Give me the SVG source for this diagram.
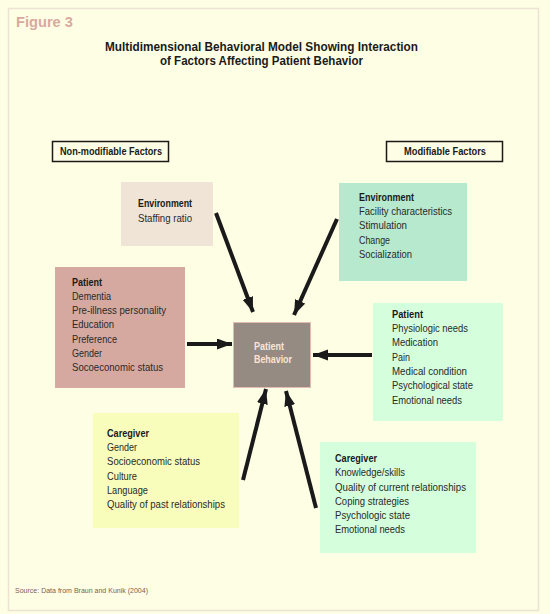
<svg xmlns="http://www.w3.org/2000/svg" width="550" height="614" viewBox="0 0 550 614">
<defs>
<marker id="ah" markerUnits="userSpaceOnUse" markerWidth="16" markerHeight="12" refX="15" refY="5.5" orient="auto">
<path d="M0,0 L15,5.5 L0,11 Z" fill="#1a1a1a"/>
</marker>
<style>
.t{font-family:"Liberation Sans",Arial,sans-serif;font-size:11.5px;fill:#2a2a2a}
.b{font-weight:bold;fill:#1a1a1a}
.title{font-family:"Liberation Sans",Arial,sans-serif;font-size:13.5px;font-weight:bold;fill:#1a1a1a}
.arr{stroke:#1a1a1a;stroke-width:4;fill:none;marker-end:url(#ah)}
</style>
</defs>
<rect x="0" y="0" width="550" height="614" fill="#FEFEE4"/>
<rect x="8.5" y="8.5" width="530" height="602" fill="#FEFEE4" stroke="#EDE3D3" stroke-width="1.5"/>
<text x="16" y="27" font-family="'Liberation Sans',sans-serif" font-size="14" font-weight="bold" fill="#D9A9A0" textLength="57" lengthAdjust="spacingAndGlyphs">Figure 3</text>
<text class="title" x="105" y="51" textLength="313" lengthAdjust="spacingAndGlyphs">Multidimensional Behavioral Model Showing Interaction</text>
<text class="title" x="160" y="65" textLength="203" lengthAdjust="spacingAndGlyphs">of Factors Affecting Patient Behavior</text>

<g id="nonmod-label">
<rect x="52.5" y="141.5" width="116" height="20" fill="none" stroke="#1a1a1a" stroke-width="1.5"/>
<text class="t b" x="60" y="155" textLength="102" lengthAdjust="spacingAndGlyphs">Non-modifiable Factors</text>
</g>
<g id="mod-label">
<rect x="386.5" y="141.5" width="116" height="20" fill="none" stroke="#1a1a1a" stroke-width="1.5"/>
<text class="t b" x="404" y="155" textLength="82" lengthAdjust="spacingAndGlyphs">Modifiable Factors</text>
</g>

<g id="env-nonmod">
<rect x="121" y="182" width="92" height="64" fill="#EFE4D6"/>
<text class="t b" x="138" y="207" textLength="54" lengthAdjust="spacingAndGlyphs">Environment</text>
<text class="t" x="138" y="222" textLength="54" lengthAdjust="spacingAndGlyphs">Staffing ratio</text>
</g>

<g id="patient-nonmod">
<rect x="55" y="267" width="130" height="121" fill="#D5A99F"/>
<text class="t b" x="72" y="286" textLength="30" lengthAdjust="spacingAndGlyphs">Patient</text>
<text class="t" x="72" y="300" textLength="39" lengthAdjust="spacingAndGlyphs">Dementia</text>
<text class="t" x="72" y="314" textLength="94" lengthAdjust="spacingAndGlyphs">Pre-illness personality</text>
<text class="t" x="72" y="328" textLength="42" lengthAdjust="spacingAndGlyphs">Education</text>
<text class="t" x="72" y="343" textLength="45" lengthAdjust="spacingAndGlyphs">Preference</text>
<text class="t" x="72" y="357" textLength="30" lengthAdjust="spacingAndGlyphs">Gender</text>
<text class="t" x="72" y="371" textLength="91" lengthAdjust="spacingAndGlyphs">Socoeconomic status</text>
</g>

<g id="patient-behavior">
<rect x="233.5" y="322.5" width="77" height="65" fill="#958B82" stroke="#E2BDB4" stroke-width="1"/>
<text class="t b" x="254" y="350" style="fill:#FBE3DA" textLength="30" lengthAdjust="spacingAndGlyphs">Patient</text>
<text class="t b" x="254" y="363" style="fill:#FBE3DA" textLength="38" lengthAdjust="spacingAndGlyphs">Behavior</text>
</g>

<g id="env-mod">
<rect x="339" y="183" width="128" height="98" fill="#B7E9CF"/>
<text class="t b" x="359" y="201" textLength="55" lengthAdjust="spacingAndGlyphs">Environment</text>
<text class="t" x="359" y="215" textLength="93" lengthAdjust="spacingAndGlyphs">Facility characteristics</text>
<text class="t" x="359" y="229" textLength="48" lengthAdjust="spacingAndGlyphs">Stimulation</text>
<text class="t" x="359" y="244" textLength="31" lengthAdjust="spacingAndGlyphs">Change</text>
<text class="t" x="359" y="258" textLength="53" lengthAdjust="spacingAndGlyphs">Socialization</text>
</g>

<g id="patient-mod">
<rect x="373" y="303" width="130" height="118" fill="#D5FEDD"/>
<text class="t b" x="392" y="318" textLength="31" lengthAdjust="spacingAndGlyphs">Patient</text>
<text class="t" x="392" y="332" textLength="76" lengthAdjust="spacingAndGlyphs">Physiologic needs</text>
<text class="t" x="392" y="346" textLength="46" lengthAdjust="spacingAndGlyphs">Medication</text>
<text class="t" x="392" y="361" textLength="18" lengthAdjust="spacingAndGlyphs">Pain</text>
<text class="t" x="392" y="375" textLength="75" lengthAdjust="spacingAndGlyphs">Medical condition</text>
<text class="t" x="392" y="389" textLength="81" lengthAdjust="spacingAndGlyphs">Psychological state</text>
<text class="t" x="392" y="404" textLength="70" lengthAdjust="spacingAndGlyphs">Emotional needs</text>
</g>

<g id="caregiver-nonmod">
<rect x="93" y="413" width="146" height="115" fill="#F8FDBB"/>
<text class="t b" x="107" y="437" textLength="42" lengthAdjust="spacingAndGlyphs">Caregiver</text>
<text class="t" x="107" y="451" textLength="30" lengthAdjust="spacingAndGlyphs">Gender</text>
<text class="t" x="107" y="465" textLength="93" lengthAdjust="spacingAndGlyphs">Socioeconomic status</text>
<text class="t" x="107" y="480" textLength="30" lengthAdjust="spacingAndGlyphs">Culture</text>
<text class="t" x="107" y="494" textLength="41" lengthAdjust="spacingAndGlyphs">Language</text>
<text class="t" x="107" y="508" textLength="118" lengthAdjust="spacingAndGlyphs">Quality of past relationships</text>
</g>

<g id="caregiver-mod">
<rect x="320" y="442" width="156" height="111" fill="#D5FEDD"/>
<text class="t b" x="335" y="462" textLength="42" lengthAdjust="spacingAndGlyphs">Caregiver</text>
<text class="t" x="335" y="476" textLength="70" lengthAdjust="spacingAndGlyphs">Knowledge/skills</text>
<text class="t" x="335" y="491" textLength="131" lengthAdjust="spacingAndGlyphs">Quality of current relationships</text>
<text class="t" x="335" y="505" textLength="74" lengthAdjust="spacingAndGlyphs">Coping strategies</text>
<text class="t" x="335" y="519" textLength="75" lengthAdjust="spacingAndGlyphs">Psychologic state</text>
<text class="t" x="335" y="533" textLength="70" lengthAdjust="spacingAndGlyphs">Emotional needs</text>
</g>

<g id="connectors">
<line class="arr" x1="216" y1="213" x2="253" y2="312"/>
<line class="arr" x1="337" y1="219" x2="294" y2="315"/>
<line class="arr" x1="187" y1="344" x2="232" y2="344"/>
<line class="arr" x1="372" y1="355" x2="313" y2="355"/>
<line class="arr" x1="243" y1="480" x2="266" y2="389"/>
<line class="arr" x1="316" y1="508" x2="286" y2="391"/>
</g>

<text x="15" y="593" font-family="'Liberation Sans',sans-serif" font-size="8" fill="#7A5F58" textLength="133" lengthAdjust="spacingAndGlyphs">Source: Data from Braun and Kunik (2004)</text>
</svg>
